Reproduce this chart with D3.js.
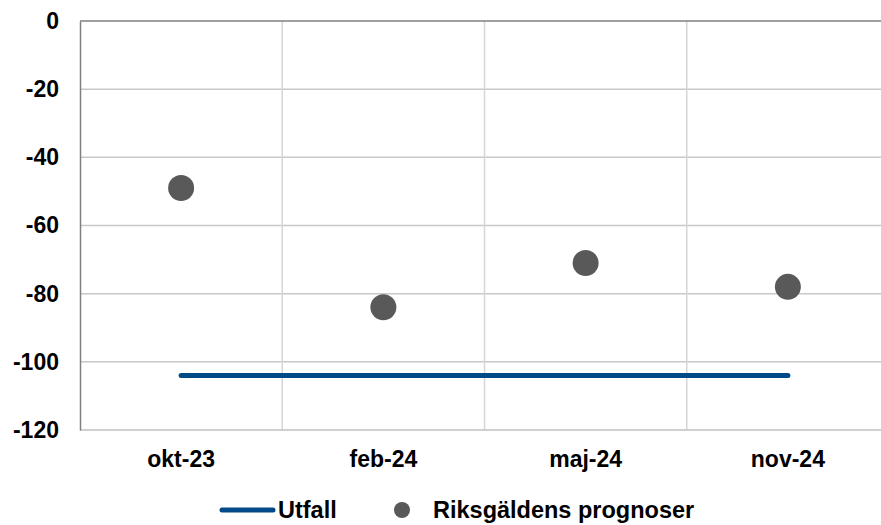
<!DOCTYPE html>
<html>
<head>
<meta charset="utf-8">
<script src="https://cdn.jsdelivr.net/npm/d3@7"></script>
<style>
  html, body { margin: 0; padding: 0; background: #fff; }
  svg { display: block; font-family: "Liberation Sans", Arial, sans-serif; }
</style>
</head>
<body>
<svg id="chart" width="881" height="525"></svg>
<script>
// Forecast dates and values (billion SEK)
const categories = ["okt-23", "feb-24", "maj-24", "nov-24"];
const forecasts = [-49, -84, -71, -78];
const outcome = [-104, -104, -104, -104];
const yTicks = [0, -20, -40, -60, -80, -100, -120];
const seriesNames = ["Utfall", "Riksgäldens prognoser"];

const svg = d3.select("#chart");
const FONT = "Liberation Sans, Arial, sans-serif";
const margin = { left: 80, top: 21, right: -8, bottom: 95 };
const W = 881, H = 525;
const x0 = margin.left, x1 = W - margin.right;
const y0 = margin.top, y1 = H - margin.bottom;

const x = d3.scaleBand().domain(categories).range([x0, x1]).padding(0);
const y = d3.scaleLinear().domain([-120, 0]).range([y1, y0]);

const grid = svg.append("g");
// horizontal gridlines
grid.selectAll("line.h").data(yTicks.filter(d => d !== 0 && d !== -120)).join("line")
  .attr("x1", x0).attr("x2", x1)
  .attr("y1", d => y(d)).attr("y2", d => y(d))
  .attr("stroke", "#c8c8c8").attr("stroke-width", 1.5);
// vertical gridlines at category boundaries
grid.selectAll("line.v").data(categories.slice(1)).join("line")
  .attr("x1", d => x(d)).attr("x2", d => x(d))
  .attr("y1", y0).attr("y2", y1)
  .attr("stroke", "#d6d6d6").attr("stroke-width", 1.5);

// top border
svg.append("line").attr("x1", x0).attr("x2", x1).attr("y1", y(0)).attr("y2", y(0))
  .attr("stroke", "#7f7f7f").attr("stroke-width", 1.5);
// bottom axis line
svg.append("line").attr("x1", x0).attr("x2", x1).attr("y1", y(-120)).attr("y2", y(-120))
  .attr("stroke", "#c0c0c0").attr("stroke-width", 1.5);

// y axis (plain hyphen as minus sign)
const yAxis = d3.axisLeft(y).tickValues(yTicks).tickSize(0).tickPadding(21)
  .tickFormat(d => String(d));
const gy = svg.append("g").attr("transform", `translate(${x0},0)`).call(yAxis);
gy.select(".domain").attr("stroke", "#808080").attr("stroke-width", 1.5);
gy.selectAll("text").attr("font-size", 23).attr("font-weight", "bold").attr("fill", "#000")
  .attr("font-family", FONT);

// x axis
const xAxis = d3.axisBottom(x).tickSize(0).tickPadding(21);
const gx = svg.append("g").attr("transform", `translate(0,${y1})`).call(xAxis);
gx.select(".domain").remove();
gx.selectAll("text").attr("font-size", 23).attr("font-weight", "bold").attr("fill", "#000")
  .attr("font-family", FONT);

const cx = d => x(d) + x.bandwidth() / 2;

// outcome line
const line = d3.line().x((d, i) => cx(categories[i])).y(d => y(d));
svg.append("path").datum(outcome).attr("d", line)
  .attr("fill", "none").attr("stroke", "#004b87").attr("stroke-width", 5)
  .attr("stroke-linecap", "round");

// forecast points
svg.selectAll("circle.pt").data(forecasts).join("circle")
  .attr("cx", (d, i) => cx(categories[i])).attr("cy", d => y(d)).attr("r", 13)
  .attr("fill", "#595959");

// legend
const lg = svg.append("g").attr("font-size", 23.5).attr("font-weight", "bold")
  .attr("font-family", FONT);
lg.append("line").attr("x1", 222).attr("x2", 273).attr("y1", 510).attr("y2", 510)
  .attr("stroke", "#004b87").attr("stroke-width", 5).attr("stroke-linecap", "round");
lg.append("text").attr("x", 278).attr("y", 518).text(seriesNames[0]);
lg.append("circle").attr("cx", 402).attr("cy", 510).attr("r", 8).attr("fill", "#595959");
lg.append("text").attr("x", 433).attr("y", 518).text(seriesNames[1]);
</script>
</body>
</html>
